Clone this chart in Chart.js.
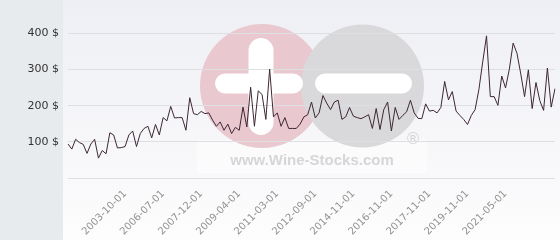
<!DOCTYPE html>
<html>
<head>
<meta charset="utf-8">
<script src="https://cdn.jsdelivr.net/npm/chart.js@4"></script>
<style>
  html, body { margin: 0; padding: 0; background: #ffffff; }
  #wrap { width: 560px; height: 240px; position: relative; }
</style>
</head>
<body>
<div id="wrap"><canvas id="c"></canvas></div>
<script>
const categories = [
  "2000-01-01","2000-04-01","2000-07-01","2000-10-01","2001-01-01","2001-04-01","2001-07-01","2001-10-01",
  "2002-01-01","2002-04-01","2002-07-01","2002-10-01","2003-01-01","2003-04-01","2003-07-01","2003-10-01",
  "2004-01-01","2004-04-01","2004-07-01","2004-10-01","2005-01-01","2005-04-01","2005-07-01","2005-11-01","2006-03-01","2006-07-01",
  "2006-09-01","2006-10-01","2006-12-01","2007-02-01","2007-04-01","2007-06-01","2007-08-01","2007-09-01","2007-11-01","2007-12-01",
  "2008-01-01","2008-03-01","2008-05-01","2008-07-01","2008-09-01","2008-10-01","2008-12-01","2009-01-01","2009-03-01","2009-04-01",
  "2009-06-01","2009-09-01","2009-11-01","2010-01-01","2010-04-01","2010-06-01","2010-08-01","2010-10-01","2011-01-01","2011-03-01",
  "2011-05-01","2011-07-01","2011-09-01","2011-11-01","2012-01-01","2012-02-01","2012-04-01","2012-06-01","2012-08-01","2012-09-01",
  "2012-12-01","2013-03-01","2013-05-01","2013-08-01","2013-10-01","2014-01-01","2014-03-01","2014-06-01","2014-08-01","2014-11-01",
  "2015-01-01","2015-04-01","2015-06-01","2015-09-01","2015-11-01","2016-01-01","2016-04-01","2016-06-01","2016-09-01","2016-11-01",
  "2016-12-01","2017-01-01","2017-03-01","2017-04-01","2017-05-01","2017-06-01","2017-07-01","2017-09-01","2017-10-01","2017-11-01",
  "2018-01-01","2018-04-01","2018-06-01","2018-09-01","2018-11-01","2019-01-01","2019-04-01","2019-06-01","2019-09-01","2019-11-01",
  "2020-01-01","2020-03-01","2020-05-01","2020-07-01","2020-08-01","2020-10-01","2020-12-01","2021-02-01","2021-03-01","2021-05-01",
  "2021-07-01","2021-09-01","2021-11-01","2022-01-01","2022-03-01","2022-05-01","2022-07-01","2022-09-01","2022-11-01",
  "2023-01-01","2023-03-01","2023-05-01","2023-07-01"
];

const prices = [
  94, 80, 107, 98, 93, 68, 94, 107, 55, 76,
  67, 125, 119, 83, 84, 87, 119, 130, 87, 123,
  137, 143, 111, 148, 119, 167, 158, 198, 166, 167,
  167, 132, 222, 178, 175, 184, 178, 180, 160, 143,
  155, 132, 149, 123, 140, 132, 196, 141, 251, 143,
  241, 231, 162, 301, 169, 180, 143, 167, 137, 137,
  137, 149, 169, 175, 210, 166, 180, 228, 207, 189,
  210, 215, 162, 169, 195, 171, 167, 164, 169, 175,
  137, 192, 134, 189, 210, 130, 195, 162, 173, 183,
  215, 180, 165, 164, 205, 185, 187, 180, 195, 267,
  216, 239, 185, 173, 162, 148, 173, 189, 245, 321,
  393, 225, 225, 201, 282, 249, 301, 373, 345, 288,
  225, 299, 192, 264, 214, 187, 304, 196, 247
];

const xTickLabels = ["2003-10-01","2006-07-01","2007-12-01","2009-04-01","2011-03-01","2012-09-01",
  "2014-11-01","2016-11-01","2017-11-01","2019-11-01","2021-05-01"];
const yTickValues = [0, 100, 200, 300, 400];
const yUnit = " $";

const backdrop = {
  id: 'backdrop',
  beforeDraw(chart) {
    const ctx = chart.ctx;
    const W = chart.width, H = chart.height;
    ctx.save();
    const g = ctx.createLinearGradient(0, 0, 0, H);
    g.addColorStop(0, '#eeeff4');
    g.addColorStop(0.75, '#f9f9fb');
    g.addColorStop(1, '#fdfdfd');
    ctx.fillStyle = g;
    ctx.fillRect(0, 0, W, H);
    ctx.fillStyle = '#e8ebee';
    ctx.fillRect(0, 0, 63, H);

    // watermark
    ctx.fillStyle = 'rgba(255,255,255,0.45)';
    ctx.fillRect(197, 140, 230, 33);
    ctx.fillStyle = '#e9c8d0';
    ctx.beginPath(); ctx.arc(262, 86, 62, 0, Math.PI * 2); ctx.fill();
    ctx.fillStyle = '#d9d9db';
    ctx.beginPath(); ctx.arc(362.5, 86, 61.5, 0, Math.PI * 2); ctx.fill();
    ctx.fillStyle = '#ffffff';
    const rr = (x, y, w, h, r) => { ctx.beginPath(); ctx.roundRect(x, y, w, h, r); ctx.fill(); };
    rr(248.5, 38, 25, 97, 12.5);
    rr(215, 73.5, 88, 20, 10);
    rr(315, 73.5, 97, 20, 10);
    ctx.fillStyle = '#d6d6d8';
    ctx.font = 'bold 15px "Liberation Sans", Arial, sans-serif';
    ctx.textAlign = 'center';
    ctx.textBaseline = 'middle';
    ctx.fillText('www.Wine-Stocks.com', 312, 161);
    ctx.font = '16px "DejaVu Sans", sans-serif';
    ctx.fillText('\u00AE', 413, 140);
    ctx.restore();
  }
};

new Chart(document.getElementById('c'), {
  type: 'line',
  data: {
    labels: categories,
    datasets: [{
      data: prices,
      borderColor: '#3d2733',
      borderWidth: 1,
      pointRadius: 0,
      tension: 0,
      fill: false
    }]
  },
  options: {
    responsive: true,
    maintainAspectRatio: false,
    animation: false,
    events: [],
    layout: { padding: { top: 2, right: 5, bottom: 0, left: 0 } },
    plugins: { legend: { display: false }, tooltip: { enabled: false } },
    scales: {
      x: {
        offset: false,
        grid: { display: false },
        border: { display: false },
        afterFit(scale) { scale.height = 62; },
        ticks: {
          autoSkip: false,
          minRotation: 45,
          maxRotation: 45,
          padding: 2,
          color: '#929292',
          font: { family: '"DejaVu Sans"', size: 10 },
          callback(value, index) {
            const lab = categories[index];
            return xTickLabels.includes(lab) ? lab : null;
          }
        }
      },
      y: {
        min: 0,
        max: 449,
        afterFit(scale) { scale.width = 68; },
        afterBuildTicks(scale) { scale.ticks = yTickValues.map(v => ({ value: v })); },
        grid: { color: '#dedfe2', lineWidth: 1, drawTicks: false },
        border: { display: false },
        ticks: {
          padding: 9,
          color: '#333333',
          font: { family: '"DejaVu Sans"', size: 11 },
          callback(value) { return value === 0 ? '' : value + yUnit; }
        }
      }
    }
  },
  plugins: [backdrop]
});
</script>
</body>
</html>
